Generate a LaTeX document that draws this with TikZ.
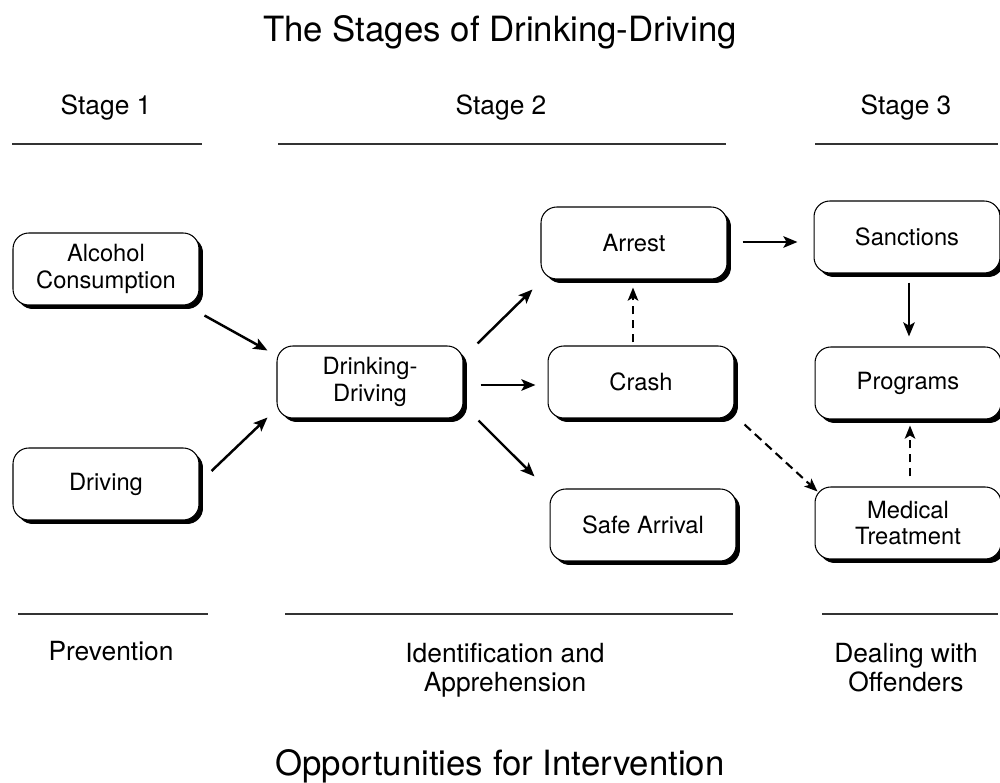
\documentclass[tikz,border=0pt]{standalone}
\usepackage{fontspec}
\setmainfont{TeX Gyre Heros}
\usetikzlibrary{arrows.meta,shadows,calc}

\begin{document}
\begin{tikzpicture}[x=0.02cm,y=-0.02cm,
  stagebox/.style={draw, line width=0.6pt, rounded corners=9pt, fill=white,
    minimum width=3.72cm, minimum height=1.44cm, align=center, inner sep=2pt,
    font=\fontsize{13.5}{15.3}\selectfont,
    drop shadow={shadow xshift=0.08cm, shadow yshift=-0.08cm, fill=black, opacity=1}},
  heading/.style={anchor=base, align=center, font=\fontsize{15}{16.4}\selectfont},
  bigtitle/.style={anchor=base, font=\fontsize{19.8}{23}\selectfont},
  rule/.style={line width=0.7pt, draw=black!80},
  flow/.style={-{Stealth[length=8pt,width=6.5pt,inset=1.8pt]}, line width=1.4pt},
  dflow/.style={-{Stealth[length=7.5pt,width=6pt,inset=1.8pt]}, line width=1.2pt, dash pattern=on 5pt off 3pt}]

\useasboundingbox (0,0) rectangle (1000,783);

% titles
\node[bigtitle] (top) at (500,42) {The Stages of Drinking-Driving};
\node[bigtitle] (bottom) at (500,775) {Opportunities for Intervention};

% stage headings and rules
\node[heading] (s1) at (106,115) {Stage 1};
\node[heading] (s2) at (501,115) {Stage 2};
\node[heading] (s3) at (906,115) {Stage 3};
\draw[rule] (12,144) -- (202,144);
\draw[rule] (278,144) -- (726,144);
\draw[rule] (815,144) -- (998,144);

% intervention rules and labels
\draw[rule] (18,614) -- (208,614);
\draw[rule] (285,614) -- (733,614);
\draw[rule] (822,614) -- (998,614);
\node[heading] (p1) at (111,660) {Prevention};
\node[heading, anchor=north] (p2) at (505,637) {Identification and\\Apprehension};
\node[heading, anchor=north] (p3) at (906,637) {Dealing with\\Offenders};

% stage boxes
\node[stagebox] (alc) at (106,269) {Alcohol\\Consumption};
\node[stagebox] (drv) at (106,484) {Driving};
\node[stagebox] (dd)  at (370,382) {Drinking-\\Driving};
\node[stagebox] (arr) at (634,243) {Arrest};
\node[stagebox] (cr)  at (641,382) {Crash};
\node[stagebox] (sa)  at (643,525) {Safe Arrival};
\node[stagebox] (san) at (907,237) {Sanctions};
\node[stagebox] (prog) at (908,383) {Programs};
\node[stagebox] (med) at (908,523) {Medical\\Treatment};

% solid flows
\draw[flow] ($(alc.south east)+(5,10)$) -- ($(dd.north west)+(-9,5)$);
\draw[flow] ($(drv.east)+(12,-13)$) -- ($(dd.south west)+(-9,-1)$);
\draw[flow] ($(dd.north east)+(14,-2)$) -- ($(arr.south west)+(-8,10)$);
\draw[flow] ($(dd.east)+(17,3)$) -- ($(dd.east -| cr.west)+(-12,3)$);
\draw[flow] ($(dd.south east)+(15,2)$) -- ($(sa.north west)+(-15,-12)$);
\draw[flow] ($(arr.east)+(15,-1)$) -- ($(arr.east -| san.west)+(-16,-1)$);
\draw[flow] ($(san.south)+(2,9)$) -- ($(prog.north)+(1,-10)$);

% dashed flows
\draw[dflow] ($(cr.north -| arr.south)+(-1,-3)$) -- ($(arr.south)+(-1,8)$);
\draw[dflow] ($(cr.south east)+(10,6)$) -- ($(med.north west)+(3,5)$);
\draw[dflow] ($(med.north)+(2,-10)$) -- ($(prog.south)+(2,6)$);

\end{tikzpicture}
\end{document}
